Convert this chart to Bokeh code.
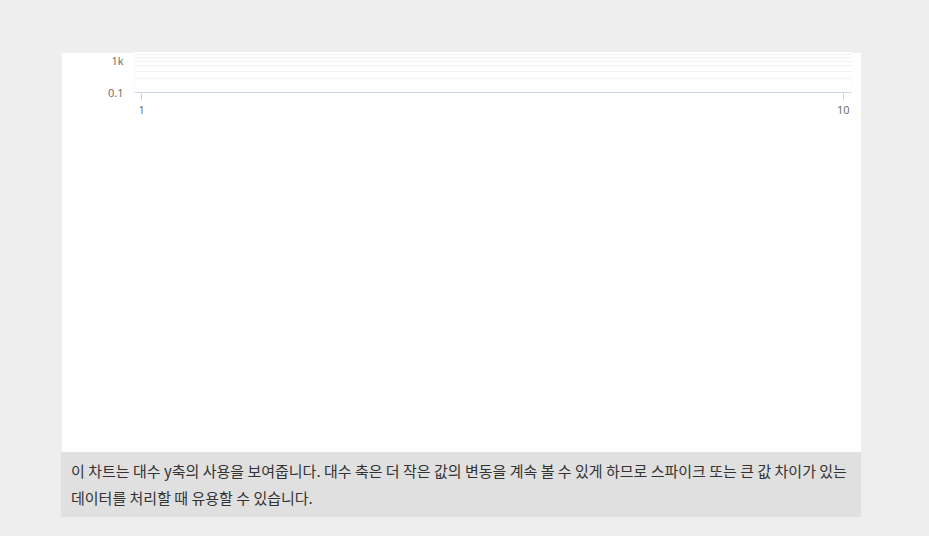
from bokeh.plotting import figure
from bokeh.models import Div, Legend, LegendItem, Label, FixedTicker, LogTicker, Range1d, CustomJSTickFormatter
from bokeh.layouts import column
from bokeh.embed import file_html
from bokeh.resources import INLINE

# data
xs = [1, 2, 3, 4, 5, 6, 7, 8, 9, 10]
ys = [1, 2, 4, 8, 16, 32, 64, 128, 256, 512]
caption = ("이 차트는 대수 y축의 사용을 보여줍니다. 대수 축은 더 작은 값의 변동을 계속 볼 수 있게 하므로 "
           "스파이크 또는 큰 값 차이가 있는 데이터를 처리할 때 유용할 수 있습니다.")

FONT = "Open Sans"

p = figure(width=800, height=400, x_axis_type="log", y_axis_type="log",
           x_range=Range1d(0.977, 10.27), y_range=Range1d(0.1, 1000),
           output_backend="svg", toolbar_location=None,
           min_border_left=73, min_border_right=10, min_border_top=10, min_border_bottom=15,
           margin=(52, 0, 0, 61))
p.outline_line_color = None
p.title.text = "Logarithmic axis demo"
p.title.align = "center"
p.title.text_font = FONT
p.title.text_font_size = "18px"
p.title.text_font_style = "normal"
p.title.text_color = "#333333"
p.title.standoff = 14

line = p.line(xs, ys, line_color="#7cb5ec", line_width=2)
dots = p.scatter(xs, ys, size=8, fill_color="#7cb5ec", line_color="#7cb5ec")

fmt = CustomJSTickFormatter(code="return tick >= 1000 ? (tick/1000) + 'k' : String(Math.round(tick*10)/10);")

p.xaxis.ticker = FixedTicker(ticks=[1, 10])
p.xaxis.formatter = fmt
p.xaxis.axis_line_color = "#ccd6eb"
p.xaxis.major_tick_line_color = "#ccd6eb"
p.xaxis.major_tick_in = 0
p.xaxis.major_tick_out = 8
p.xaxis.minor_tick_line_color = None
p.xgrid.grid_line_color = None

p.yaxis.ticker = LogTicker(num_minor_ticks=10)
p.yaxis.formatter = fmt
p.yaxis.axis_line_color = None
p.yaxis.major_tick_line_color = None
p.yaxis.minor_tick_line_color = None
p.yaxis.axis_label = "Values"
p.yaxis.axis_label_text_font = FONT
p.yaxis.axis_label_text_font_style = "normal"
p.yaxis.axis_label_text_font_size = "12px"
p.yaxis.axis_label_text_color = "#666666"
p.ygrid.grid_line_color = "#e6e6e6"
p.ygrid.minor_grid_line_color = "#f2f2f2"

for ax in (p.xaxis, p.yaxis):
    ax.major_label_text_font = FONT
    ax.major_label_text_font_size = "11px"
    ax.major_label_text_color = "#666666"

legend = Legend(items=[LegendItem(label="Series 1", renderers=[line, dots])],
                orientation="horizontal", location="center",
                label_text_font=FONT, label_text_font_style="bold",
                label_text_font_size="12px", label_text_color="#333333",
                border_line_color=None, glyph_width=16, padding=4, margin=8)
p.add_layout(legend, "below")

credit = Label(x=717, y=-68, x_units="screen", y_units="screen", text="Highcharts.com",
               text_font=FONT, text_font_size="9px", text_color="#999999", text_align="right")
p.add_layout(credit)

menu = Label(x=716, y=292, x_units="screen", y_units="screen", text="☰",
             text_font="DejaVu Sans", text_font_size="18px", text_color="#666666",
             text_align="right")
p.add_layout(menu)

div = Div(text=caption, width=800, height=65, margin=(0, 0, 0, 61),
          styles={"background-color": "#e0e0e0", "font-family": "Noto Sans CJK KR",
                  "font-size": "15px", "color": "#333333", "line-height": "27px",
                  "padding": "5px 10px", "box-sizing": "border-box"})

layout = column(p, div, width=929, height=536, spacing=0,
                styles={"background-color": "#eeeeee"})

open("out.html", "w").write(file_html(layout, INLINE))
